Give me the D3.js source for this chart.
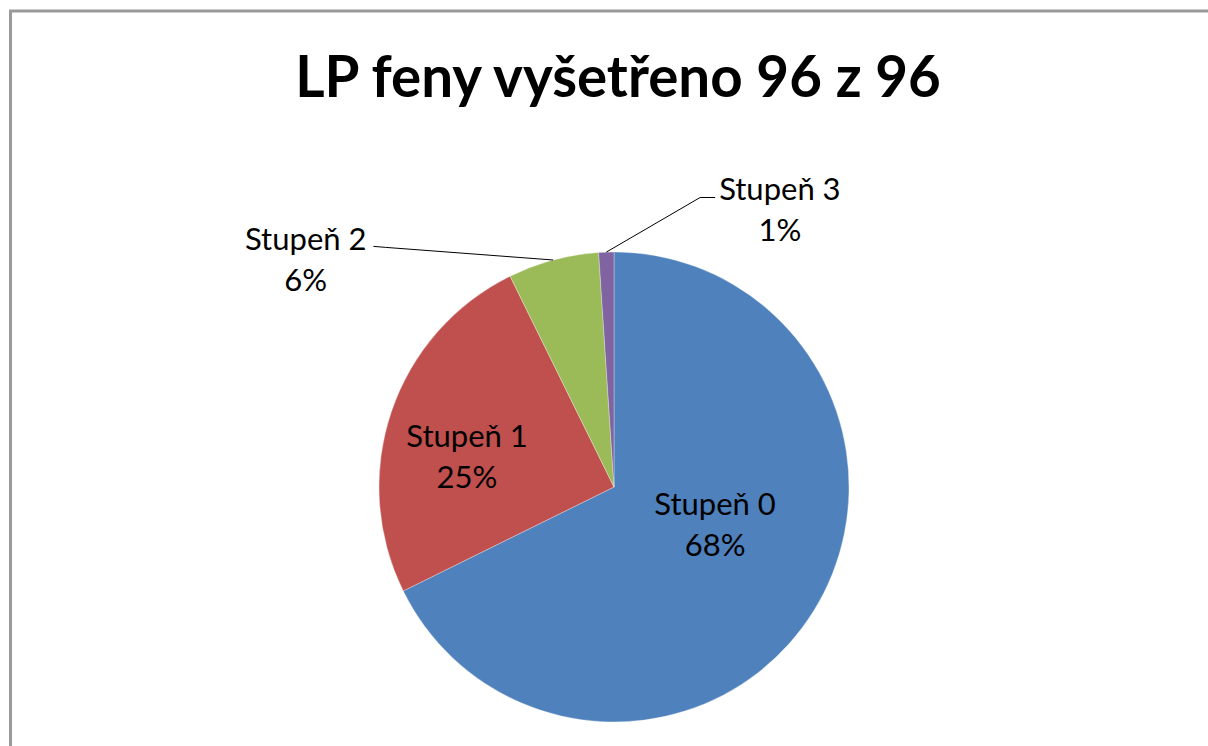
<!DOCTYPE html>
<meta charset="utf-8">
<style>
html, body {
  margin: 0;
  background: #fff;
  overflow: hidden;
}

svg {
  display: block;
}

.title {
  font-family: Lato, "Open Sans", sans-serif;
  font-weight: bold;
  font-size: 56.5px;
  fill: #000;
}

.label {
  font-family: Lato, "Open Sans", sans-serif;
  font-size: 31px;
  fill: #000;
}

.leader {
  fill: none;
  stroke: #000;
  stroke-width: 1px;
}
</style>

<svg></svg>

<script src="https://d3js.org/d3.v7.min.js"></script>
<script>

// Data (96 bitches examined)
var categories = ['Stupeň 0', 'Stupeň 1', 'Stupeň 2', 'Stupeň 3'];
var counts = [65, 24, 6, 1];
var percentLabels = ['68%', '25%', '6%', '1%'];
var colors = ['#4F81BD', '#C0504D', '#9BBB59', '#8064A2'];

var width = 1208;
var height = 746;
var cx = 614, cy = 487, radius = 235;

// label block placement: [angle in degrees, distance from pie centre], outside = needs a leader line
var labelPlacement = [
  {angle: 110.6, dist: 108, outside: false},
  {angle: 281.5, dist: 150, outside: false},
  {angle: 306.4, dist: 383, outside: true},
  {angle: 30.9, dist: 323, outside: true}
];

var svg = d3.select('svg')
  .attr('width', width)
  .attr('height', height)
  .style('overflow', 'hidden');

// chart frame (runs off the right and bottom of the picture)
svg.append('path')
  .attr('d', 'M10.5,' + height + 'V11H' + width)
  .attr('fill', 'none')
  .attr('stroke', '#9a9a9a')
  .attr('stroke-width', 3);

svg.append('text')
  .attr('class', 'title')
  .attr('x', 618)
  .attr('y', 97)
  .attr('text-anchor', 'middle')
  .text('LP feny vyšetřeno 96 z 96');

var pie = d3.pie().sort(null).value(function (d) { return d; });
var arcs = pie(counts);

var arc = d3.arc().innerRadius(0).outerRadius(radius);

var g = svg.append('g')
  .attr('transform', 'translate(' + cx + ',' + cy + ')');

g.selectAll('path.slice')
  .data(arcs)
  .enter().append('path')
  .attr('class', 'slice')
  .attr('d', arc)
  .attr('fill', function (d, i) { return colors[i]; })
  .attr('stroke', 'rgba(255,255,255,0.5)')
  .attr('stroke-width', 0.6);

var lineGap = 41;

var labels = g.selectAll('text.label')
  .data(arcs)
  .enter().append('text')
  .attr('class', 'label')
  .attr('text-anchor', 'middle')
  .each(function (d, i) {
    var p = labelPlacement[i];
    var pt = d3.pointRadial(p.angle * Math.PI / 180, p.dist);
    var t = d3.select(this);
    t.append('tspan')
      .attr('class', 'first')
      .attr('x', pt[0])
      .attr('y', pt[1] - 10)
      .text(categories[i]);
    t.append('tspan')
      .attr('x', pt[0])
      .attr('y', pt[1] - 10 + lineGap)
      .text(percentLabels[i]);
  });

// leader lines for the small slices
labels.each(function (d, i) {
  var p = labelPlacement[i];
  if (!p.outside) return;
  var box = d3.select(this).select('tspan.first').node().getBBox();
  var mid = (d.startAngle + d.endAngle) / 2;
  var edge = d3.pointRadial(mid, radius);
  var baseline = box.y + box.height * 0.78;
  var pts;
  if (edge[0] > box.x + box.width) {
    var sx = box.x + box.width + 7;
    pts = [[sx, baseline - 2], [sx + 12, baseline - 1], edge];
  } else {
    var sx2 = box.x - 4;
    pts = [[sx2, baseline - 1], [sx2 - 15, baseline - 1], edge];
  }
  g.append('path')
    .attr('class', 'leader')
    .attr('d', d3.line()(pts));
});
</script>
